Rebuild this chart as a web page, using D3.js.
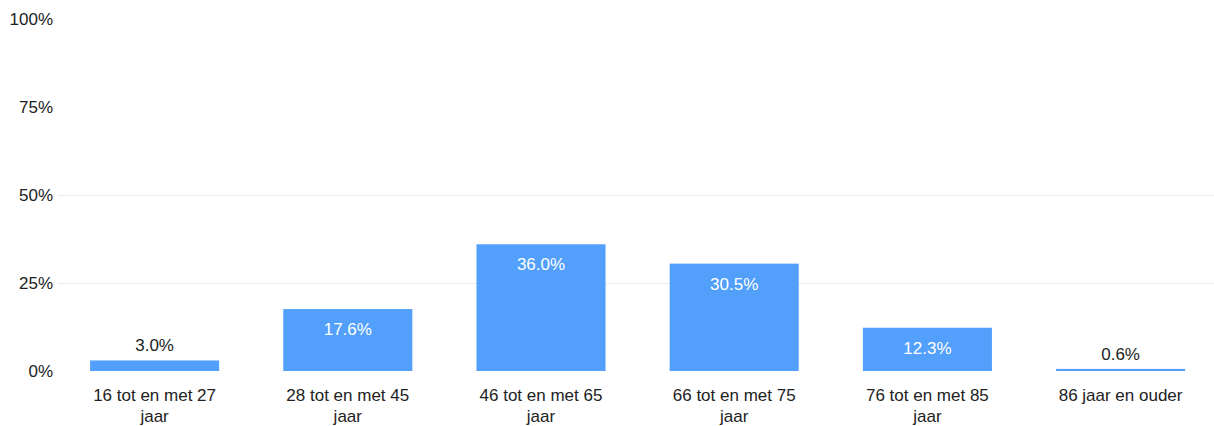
<!DOCTYPE html>
<html>
<head>
<meta charset="utf-8">
<script src="https://cdn.jsdelivr.net/npm/d3@7"></script>
<style>
  html, body { margin: 0; padding: 0; background: #fff; }
  svg { display: block; font-family: "Liberation Sans", Arial, sans-serif; }
</style>
</head>
<body>
<svg id="chart" width="1214" height="426"></svg>
<script>
const categories = [
  ["16 tot en met 27", "jaar"],
  ["28 tot en met 45", "jaar"],
  ["46 tot en met 65", "jaar"],
  ["66 tot en met 75", "jaar"],
  ["76 tot en met 85", "jaar"],
  ["86 jaar en ouder"]
];
const values = [3.0, 17.6, 36.0, 30.5, 12.3, 0.6];
const yTicks = [0, 25, 50, 75, 100];
const gridTicks = [25, 50];

const svg = d3.select("#chart");
const W = 1214, H = 426;

const x = d3.scaleBand()
  .domain(d3.range(categories.length))
  .range([58, 58 + 6 * 193.2])
  .paddingInner(0.332)
  .paddingOuter(0.166);

const y = d3.scaleLinear().domain([0, 100]).range([371, 19]);

// gridlines
svg.append("g").selectAll("line").data(gridTicks).join("line")
  .attr("x1", 58).attr("x2", W)
  .attr("y1", d => y(d) + 0.5).attr("y2", d => y(d) + 0.5)
  .attr("stroke", "#ebebeb").attr("stroke-width", 1);

// y axis labels
svg.append("g").selectAll("text").data(yTicks).join("text")
  .attr("x", 53).attr("y", d => y(d) + 6)
  .attr("text-anchor", "end")
  .attr("font-size", 17).attr("fill", "#222")
  .text(d => d + "%");

// bars
svg.append("g").selectAll("rect").data(values).join("rect")
  .attr("x", (d, i) => x(i))
  .attr("width", x.bandwidth())
  .attr("y", d => y(d))
  .attr("height", d => Math.max(2, y(0) - y(d)))
  .attr("fill", "#52a0fb");

// value labels
svg.append("g").selectAll("text").data(values).join("text")
  .attr("x", (d, i) => x(i) + x.bandwidth() / 2)
  .attr("y", d => (y(0) - y(d) > 30) ? y(d) + 26 : y(d) - 9)
  .attr("text-anchor", "middle")
  .attr("font-size", 17)
  .attr("fill", d => (y(0) - y(d) > 30) ? "#ffffff" : "#222")
  .text(d => d.toFixed(1) + "%");

// category labels
const cat = svg.append("g").selectAll("text").data(categories).join("text")
  .attr("x", (d, i) => x(i) + x.bandwidth() / 2)
  .attr("y", 401)
  .attr("text-anchor", "middle")
  .attr("font-size", 17).attr("fill", "#222");
cat.selectAll("tspan").data(d => d).join("tspan")
  .attr("x", function() { return d3.select(this.parentNode).attr("x"); })
  .attr("dy", (d, i) => i === 0 ? 0 : 21)
  .text(d => d);
</script>
</body>
</html>
